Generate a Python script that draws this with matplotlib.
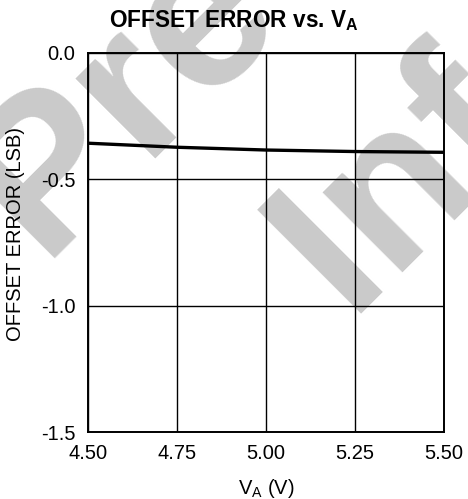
import numpy as np
import matplotlib
matplotlib.use("Agg")
import matplotlib.pyplot as plt

plt.rcParams['font.family'] = ['Liberation Sans', 'DejaVu Sans']

# offset error vs analog supply voltage
va = [4.50, 4.75, 5.00, 5.25, 5.50]
offset_lsb = [-0.357, -0.373, -0.384, -0.390, -0.393]

xticks = [4.50, 4.75, 5.00, 5.25, 5.50]
xtick_labels = ['4.50', '4.75', '5.00', '5.25', '5.50']
yticks = [0.0, -0.5, -1.0, -1.5]
ytick_labels = ['0.0', '-0.5', '-1.0', '-1.5']

W, H = 468, 499
fig = plt.figure(figsize=(W / 100, H / 100), dpi=100)

# watermark, drawn behind the axes
wm = dict(fontsize=154, fontweight='bold', color='#cacaca', rotation=45,
          rotation_mode='anchor', ha='left', va='baseline', zorder=-1)
fig.text(41 / W, 1 - 259 / H, 'Pre', **wm)
fig.text(347 / W, 1 - 314 / H, 'Info', **wm)

ax = fig.add_axes([88 / W, 1 - 432 / H, (444 - 88) / W, (432 - 53) / H])
ax.patch.set_alpha(0)

ax.plot(va, offset_lsb, color='black', lw=2.4, zorder=3)

ax.set_xlim(4.5, 5.5)
ax.set_ylim(-1.5, 0.0)
ax.set_xticks(xticks)
ax.set_xticklabels(xtick_labels)
ax.set_yticks(yticks)
ax.set_yticklabels(ytick_labels)
ax.tick_params(length=0, labelsize=14.5, colors='black')
ax.tick_params(axis='x', pad=8.5)
ax.tick_params(axis='y', pad=9)
ax.grid(True, color='black', lw=1.0)
for s in ax.spines.values():
    s.set_linewidth(1.4)

ax.set_xlabel('V$_\\mathregular{A}$ (V)', fontsize=14.5)
ax.set_ylabel('OFFSET ERROR (LSB)', fontsize=14.5)
ax.xaxis.set_label_coords(0.5, -0.118)
ax.yaxis.set_label_coords(-0.176, 0.522)
fig.text(0.5, 1 - 27 / H, 'OFFSET ERROR vs. V$_\\mathregular{A}$',
         ha='center', va='baseline', fontsize=16.3, fontweight='bold')

fig.savefig('out.png', dpi=100)
